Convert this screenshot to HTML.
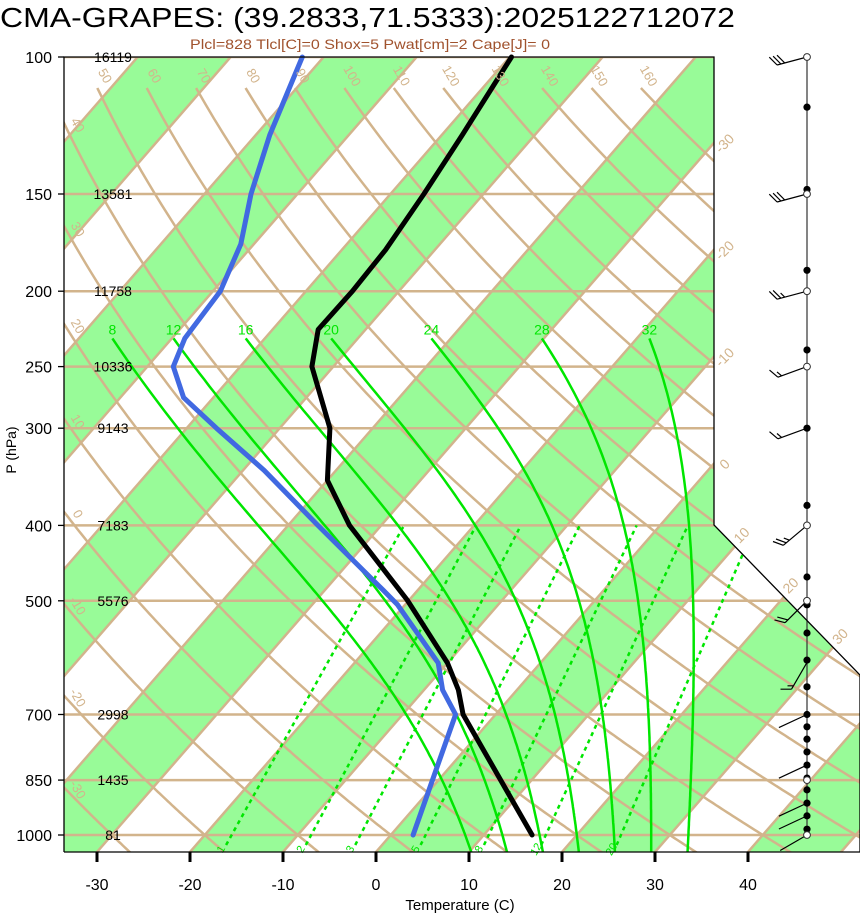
<!DOCTYPE html>
<html><head><meta charset="utf-8"><style>
html,body{margin:0;padding:0;background:#fff;}
svg{display:block;font-family:"Liberation Sans",sans-serif;}
</style></head><body>
<svg id="chart" width="860" height="914" viewBox="0 0 860 914" xmlns="http://www.w3.org/2000/svg">
<defs><clipPath id="plotclip"><polygon points="64,57 714,57 714,525 860,675 860,852 64,852"/></clipPath></defs>
<text x="0" y="27" font-size="28" textLength="735" lengthAdjust="spacingAndGlyphs">CMA-GRAPES: (39.2833,71.5333):2025122712072</text>
<text x="190" y="49" font-size="14" fill="#a0522d" textLength="360" lengthAdjust="spacingAndGlyphs">Plcl=828 Tlcl[C]=0 Shox=5 Pwat[cm]=2 Cape[J]= 0</text>
<g id="bg" clip-path="url(#plotclip)"></g>
<g id="grid" clip-path="url(#plotclip)"></g>
<g id="series"></g>
<g id="labels"></g>
<polyline points="64,852 64,57 714,57 714,525 860,675 860,852 64,852" fill="none" stroke="#000" stroke-width="1.3"/>
<text x="16" y="450" font-size="14" text-anchor="middle" transform="rotate(-90 16 450)">P (hPa)</text>
<text x="460" y="910" font-size="15" text-anchor="middle">Temperature (C)</text>
</svg>
<script>
const tempP=[1000,700,651,601,499,400,350,300,250,224,200,177,150,126,100];
const tempT=[15.2,-3.5,-6.3,-10.0,-20.2,-33.4,-40.0,-44.6,-52.3,-55.1,-55.0,-55.3,-56.4,-57.8,-59.8];
const dewP=[1000,700,651,601,506,484,400,340,300,274,250,230,200,174,150,126,100];
const dewT=[2.4,-4.3,-8.0,-11.0,-20.8,-23.8,-36.8,-47.7,-56.8,-63.2,-67.2,-68.6,-69.2,-71.4,-75.0,-78.5,-82.3];
const windP=[100,150,200,250,300,400,500,600,700,813,910,945,1000];
const windDir=[255,255,255,250,250,230,225,210,245,245,245,245,240];
const windSpd=[30,30,25,15,15,25,20,15,3,3,3,3,3];
const dotP=[116,148,188,238,300,377,466,506,550,596,645,700,726,753,782,813,845,875,910,945,983];
const openP=[100,150,200,250,400,500,850,1000];
const presLevels=[100,150,200,250,300,400,500,700,850,1000];
const heightLabels=["16119","13581","11758","10336","9143","7183","5576","2998","1435","81"];
const xTicks=[-30,-20,-10,0,10,20,30,40];
const moistT0=[8,12,16,20,24,28,32];
const mixW=[1,2,3,5,8,12,20];
const greenBands=[-140,-120,-100,-80,-60,-40,-20,0,20,40,60];
const isoLabelsRight=[-30,-20,-10,0];
const isoLabelsDiag=[10,20,30];

const NS="http://www.w3.org/2000/svg";
const TAN="#d2b48c", GREEN="#00e600", PALE="#98fb98";
function Y(p){return 57+778*Math.log10(p/100);}
function P(y){return 100*Math.pow(10,(y-57)/778);}
function X(T,p){return 376+9.3*T+0.87*(852-Y(p));}
function XY(T,y){return 376+9.3*T+0.87*(852-y);}
function mk(tag,attrs,parent){const e=document.createElementNS(NS,tag);for(const k in attrs)e.setAttribute(k,attrs[k]);parent.appendChild(e);return e;}
const bg=document.getElementById('bg'),grid=document.getElementById('grid'),series=document.getElementById('series'),labels=document.getElementById('labels');

greenBands.forEach(t0=>{
  const pts=[[XY(t0,0),0],[XY(t0+10,0),0],[XY(t0+10,914),914],[XY(t0,914),914]].map(a=>a.join(',')).join(' ');
  const e=mk('polygon',{points:pts,fill:PALE},bg);
  
  
});
presLevels.forEach(p=>{
  const e=mk('line',{x1:64,x2:860,y1:Y(p),y2:Y(p),stroke:TAN,'stroke-width':2.5},grid);
  
  
});
for(let t=-130;t<=60;t+=10){
  const e=mk('line',{x1:XY(t,0),y1:0,x2:XY(t,914),y2:914,stroke:TAN,'stroke-width':2.5},grid);
  
  
}
const ptop=P(88);
for(let th=-30;th<=160;th+=10){
  let pts=[];
  for(let p=1060;p>=ptop;p-=5){const T=(th+273.15)*Math.pow(p/1000,0.286)-273.15;pts.push(X(T,p).toFixed(1)+','+Y(p).toFixed(1));}
  const T=(th+273.15)*Math.pow(ptop/1000,0.286)-273.15;pts.push(X(T,ptop).toFixed(1)+','+Y(ptop).toFixed(1));
  const e=mk('polyline',{points:pts.join(' '),fill:'none',stroke:TAN,'stroke-width':2.5},grid);
  
  
  let lx,ly;
  const xt=X(T,ptop);
  if(xt>=68){lx=xt+4;ly=78;}
  else{
    let found=null;
    for(let p=ptop;p<=1060;p+=1){const Tp=(th+273.15)*Math.pow(p/1000,0.286)-273.15;if(X(Tp,p)>=64){found=p;break;}}
    if(found===null)continue;
    lx=74;ly=Y(found)+4;
  }
  if(lx>700)continue;
  const tx=mk('text',{x:lx,y:ly,'font-size':13,fill:TAN,'text-anchor':'middle',transform:`rotate(60 ${lx} ${ly})`},labels);
  
  
  tx.textContent=th;
}
function es(Tc){return 6.112*Math.exp(17.67*Tc/(Tc+243.5));}
function dTdp(T,p){const e=es(T-273.15);const ws=0.622*e/(p-e);const L=2.5e6;return (287*T+L*ws)/(p*(1004+L*L*ws*0.622/(287*T*T)));}
moistT0.forEach(t0=>{
  let pts=[];
  let T=t0+273.15;
  let Tl=T;for(let p=1000;p<1055;p+=1){Tl+=dTdp(Tl,p)*1;}
  pts.push(X(Tl-273.15,1055).toFixed(1)+','+Y(1055).toFixed(1));
  let lastx,lasty;
  for(let p=1000;p>=230;p-=1){
    if(p%5===0){lastx=X(T-273.15,p);lasty=Y(p);pts.push(lastx.toFixed(1)+','+lasty.toFixed(1));}
    T-=dTdp(T,p)*1;
  }
  const e=mk('polyline',{points:pts.join(' '),fill:'none',stroke:GREEN,'stroke-width':2.5},grid);
  
  
  const tx=mk('text',{x:lastx,y:lasty-4,'font-size':14,fill:GREEN,'text-anchor':'middle'},labels);
  
  
  tx.textContent=t0;
});
function tdFromW(w,p){const e=w*p/(622+w);const l=Math.log(e/6.112);return 243.5*l/(17.67-l);}
mixW.forEach(w=>{
  const p1=1030,p2=400;
  const e=mk('line',{x1:X(tdFromW(w,p1),p1),y1:Y(p1),x2:X(tdFromW(w,p2),p2),y2:Y(p2),stroke:GREEN,'stroke-width':2.5,'stroke-dasharray':'4 4'},grid);
  
  
  const lx=X(tdFromW(w,p1),p1)-2,ly=Y(p1)+6;
  const tx=mk('text',{x:lx,y:ly,'font-size':11,fill:GREEN,'text-anchor':'middle',transform:`rotate(-60 ${lx} ${ly})`},labels);
  
  
  tx.textContent=w;
});
isoLabelsRight.forEach(t=>{
  const y=852-(714-376-9.3*t)/0.87;const lx=728,ly=y+4;
  const tx=mk('text',{x:lx,y:ly,'font-size':14,fill:TAN,'text-anchor':'middle',transform:`rotate(-45 ${lx} ${ly})`},labels);
  
  
  tx.textContent=t;
});
isoLabelsDiag.forEach(t=>{
  let x=714;for(;x<=860;x+=0.5){const yd=525+(x-714)*150/146;if(XY(t,yd)<=x)break;}
  const yd=525+(x-714)*150/146;const lx=x+10,ly=yd-8;
  const tx=mk('text',{x:lx,y:ly,'font-size':14,fill:TAN,'text-anchor':'middle',transform:`rotate(-45 ${lx} ${ly})`},labels);
  
  
  tx.textContent=t;
});
presLevels.forEach((p,i)=>{
  const y=Y(p);
  const t=mk('text',{x:52,y:y+6,'font-size':16,'text-anchor':'end'},labels);
  
  
  t.textContent=p;
  const tk=mk('line',{x1:58,x2:64,y1:y,y2:y,stroke:'#000','stroke-width':1.3},labels);
  
  
  const h=mk('text',{x:113,y:y+5,'font-size':14,'text-anchor':'middle'},labels);
  
  
  h.textContent=heightLabels[i];
});
xTicks.forEach(t=>{
  const x=376+9.3*t;
  const tk=mk('line',{x1:x,x2:x,y1:852,y2:862,stroke:'#000','stroke-width':3},labels);
  
  
  const tx=mk('text',{x:x,y:890,'font-size':16,'text-anchor':'middle'},labels);
  
  
  tx.textContent=t;
});
function curve(ps,ts,color){
  const pts=ps.map((p,i)=>X(ts[i],p).toFixed(1)+','+Y(p).toFixed(1)).join(' ');
  return mk('polyline',{points:pts,fill:'none',stroke:color,'stroke-width':5,'stroke-linejoin':'round','stroke-linecap':'round'},series);
}
const dl=curve(dewP,dewT,'#4169e1');


const tl=curve(tempP,tempT,'#000');


const WX=807;
const staff=mk('line',{x1:WX,x2:WX,y1:57,y2:Y(1000),stroke:'#333','stroke-width':1.2},series);


windP.forEach((p,i)=>{
  const d=windDir[i]*Math.PI/180;const dx=Math.sin(d),dy=-Math.cos(d);
  const y0=Y(p),L=31;const tx=WX+dx*L,ty=y0+dy*L;
  let path=`M${WX},${y0} L${tx.toFixed(1)},${ty.toFixed(1)}`;
  let s=windSpd[i];let off=0;
  const c=Math.cos(Math.PI/3),sn=Math.sin(Math.PI/3);
  const fx=dx*c-dy*sn,fy=dx*sn+dy*c;
  while(s>=10){const bx=tx-dx*off,by=ty-dy*off;path+=` M${bx.toFixed(1)},${by.toFixed(1)} l${(fx*11).toFixed(1)},${(fy*11).toFixed(1)}`;off+=4;s-=10;}
  if(s>=5){if(off===0)off=4;const bx=tx-dx*off,by=ty-dy*off;path+=` M${bx.toFixed(1)},${by.toFixed(1)} l${(fx*6).toFixed(1)},${(fy*6).toFixed(1)}`;}
  const e=mk('path',{d:path,fill:'none',stroke:'#000','stroke-width':1.2},series);
  
  
});
dotP.forEach(p=>{
  const e=mk('circle',{cx:WX,cy:Y(p),r:3.6,fill:'#000'},series);
  
  
});
openP.forEach(p=>{
  const e=mk('circle',{cx:WX,cy:Y(p),r:3.4,fill:'#fff',stroke:'#333','stroke-width':1},series);
  
  
});
</script>
</body></html>
